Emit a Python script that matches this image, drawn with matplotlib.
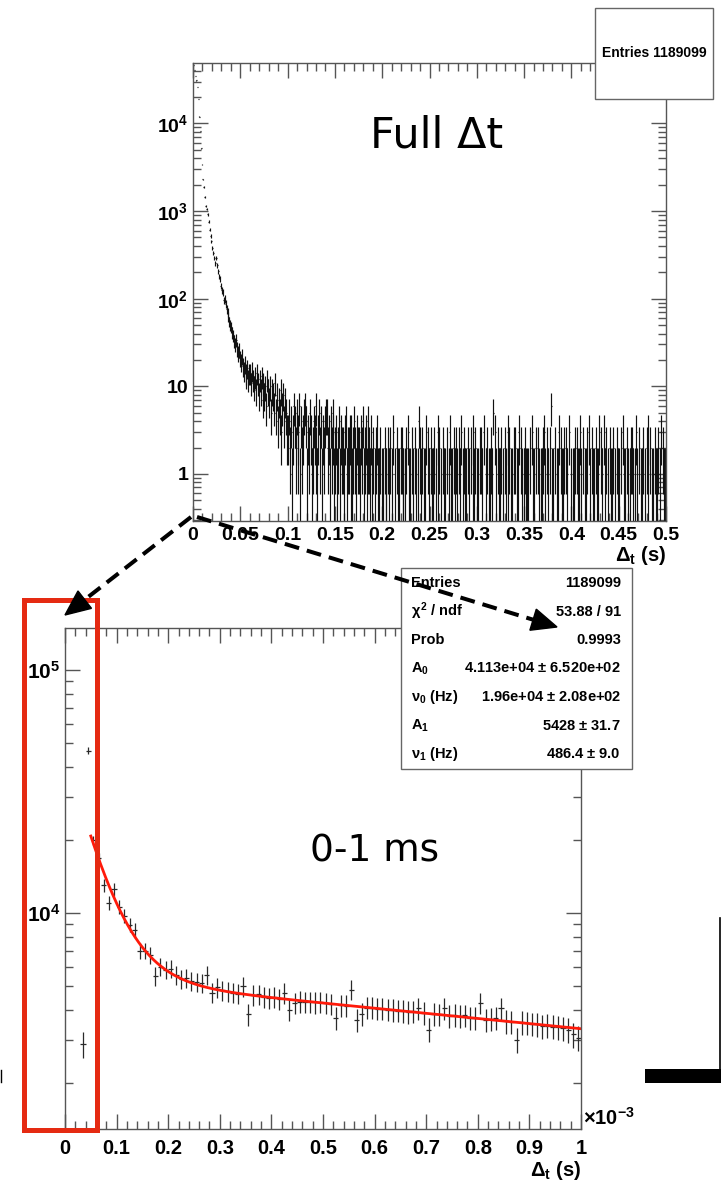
import numpy as np
import matplotlib
matplotlib.use('Agg')
import matplotlib.pyplot as plt
from matplotlib.ticker import FixedLocator, FuncFormatter, LogLocator, MultipleLocator, NullFormatter
from matplotlib.patches import Rectangle, Polygon

plt.rcParams['font.family'] = ['Liberation Sans', 'DejaVu Sans']
plt.rcParams['font.weight'] = 'bold'
plt.rcParams['axes.labelweight'] = 'bold'
plt.rcParams['mathtext.fontset'] = 'custom'
plt.rcParams['mathtext.rm'] = 'Liberation Sans:bold'
plt.rcParams['mathtext.it'] = 'Liberation Sans:bold'
plt.rcParams['mathtext.bf'] = 'Liberation Sans:bold'

# ---- full range histogram: 1 ms bins, 0 - 0.5 s ----
full_bin_width = 0.001
full_head = [46000, 41000, 35000, 31000, 26000, 19000, 12000, 8200, 5200, 3400,
             2300, 1900, 1450, 1150, 1050, 920, 760, 610, 520, 450,
             380, 330, 290, 255, 290, 240, 205, 180, 170, 140,
             125, 118, 96, 100, 88, 76, 70, 62, 55, 50,
             47, 41, 38, 33, 30, 34, 27, 24, 26, 21,
             19, 22, 17, 15, 18, 14, 13, 16, 12, 14,
             14, 11, 15, 12, 10, 13, 9, 14, 11, 8,
             12, 9, 13, 7, 11, 8, 10, 6, 12, 9,
             7, 10, 5, 9, 8, 6, 11, 5, 8, 4,
             7, 5, 9, 3, 6, 8, 4, 7, 5, 3]
# one digit per bin from 0.1 s on
full_tail = ("35241364252361423564132531243621352413245523142531"
             "23124132213412233112421322132412314221312012311201"
             "10211021201301021102211012031102102101421020113021"
             "02112010312010211020131102120102130121102102013120"
             "11022103012011021503102112010210312011022011302101"
             "21011020311020210112031021026110201130201120210301"
             "01120210131020112031021102011302103120102110201021"
             "10203110210120210131020112010231020110211201302110")

# ---- zoomed histogram: 0.01 ms bins, 0 - 1 ms ----
zoom_bin_width = 0.01  # ms
zoom_counts = [0, 0, 0, 2880, 46600, 19900, 16800, 13000, 11000, 12500,
               10600, 9700, 8950, 8500, 7000, 7000, 6700, 5500, 6000, 5850,
               5900, 5550, 5350, 5400, 5250, 5200, 5150, 5550, 4700, 4950,
               4800, 4750, 4700, 4650, 4990, 3820, 4600, 4620, 4500, 4480,
               4520, 4430, 4690, 4000, 4260, 4320, 4300, 4310, 4280, 4290,
               4250, 4230, 3700, 4160, 4150, 4830, 3640, 3850, 4080, 4070,
               4040, 4030, 4000, 3990, 3960, 3950, 3910, 3930, 4060, 3880,
               3310, 3850, 3830, 4050, 3780, 3800, 3760, 3790, 3710, 3700,
               4260, 3640, 3660, 3700, 4060, 3580, 3560, 3010, 3550, 3530,
               3500, 3480, 3420, 3440, 3400, 3380, 3350, 3300, 3160, 3060]
zoom_err_scale = 6.6

# fit: A0*exp(-nu0*t) + A1*exp(-nu1*t)
fit_A0, fit_nu0 = 4.113e4, 1.96e4
fit_A1, fit_nu1 = 5428.0, 486.4
fit_start, fit_end = 0.05e-3, 1.0e-3

stats_names = ['Entries', r'$\chi^{2}$ / ndf', 'Prob', r'A$_{0}$', r'$\nu_{0}$ (Hz)',
               r'A$_{1}$', r'$\nu_{1}$ (Hz)']
stats_values = ['1189099', '53.88 / 91', '0.9993', r'4.113e+04 $\pm$ 6.520e+02',
                r'1.96e+04 $\pm$ 2.08e+02', r'5428 $\pm$ 31.7', r'486.4 $\pm$ 9.0']

W, H = 721, 1181
frame = '#555555'
fig = plt.figure(figsize=(W / 100, H / 100), dpi=100)


def log_label(v, pos):
    e = int(round(np.log10(v)))
    if e == 0:
        return '1'
    if e == 1:
        return '10'
    return r'$10^{%d}$' % e


def style_axes(ax, ysize):
    for s in ax.spines.values():
        s.set_color(frame)
        s.set_linewidth(1.0)
    ax.tick_params(which='both', direction='in', top=True, right=True, color=frame, width=1.0)
    ax.tick_params(which='major', length=10.5)
    ax.tick_params(which='minor', length=5.5)
    ax.tick_params(axis='y', labelsize=ysize, pad=3.5)


# ---- top panel ----
ax1 = fig.add_axes([193 / W, 1 - 521 / H, 473 / W, 458 / H])
full_counts = np.array(full_head + [int(c) for c in full_tail], dtype=float)
xc = (np.arange(len(full_counts)) + 0.5) * full_bin_width
m = full_counts > 0
ax1.errorbar(xc[m], full_counts[m], yerr=np.sqrt(full_counts[m]), xerr=full_bin_width / 2,
             fmt='none', ecolor='#111111', elinewidth=0.85)
ax1.set_yscale('log')
ax1.set_xlim(0, 0.5)
ax1.set_ylim(0.29, 4.9e4)
ax1.xaxis.set_major_locator(MultipleLocator(0.05))
ax1.xaxis.set_minor_locator(MultipleLocator(0.01))
ax1.xaxis.set_major_formatter(FuncFormatter(lambda v, p: '%g' % round(v, 3)))
ax1.yaxis.set_major_locator(FixedLocator([1, 10, 100, 1000, 10000]))
ax1.yaxis.set_major_formatter(FuncFormatter(log_label))
ax1.yaxis.set_minor_locator(LogLocator(base=10, subs=np.arange(2, 10)))
ax1.yaxis.set_minor_formatter(NullFormatter())
style_axes(ax1, 14)
ax1.tick_params(axis='x', labelsize=14, pad=4.5)
ax1.set_xlabel(r'$\Delta_{t}$ (s)', loc='right', fontsize=14.5, labelpad=0)

# ---- bottom panel ----
ax2 = fig.add_axes([65 / W, 1 - 1129 / H, 516 / W, 501 / H])
zc = np.array(zoom_counts, dtype=float)
zx = (np.arange(len(zc)) + 0.5) * zoom_bin_width
zm = zc > 0
ax2.errorbar(zx[zm], zc[zm], yerr=zoom_err_scale * np.sqrt(zc[zm]), xerr=zoom_bin_width / 2,
             fmt='none', ecolor='#2a2a2a', elinewidth=0.9)
tfit = np.linspace(fit_start, fit_end, 400)
ffit = fit_A0 * np.exp(-fit_nu0 * tfit) + fit_A1 * np.exp(-fit_nu1 * tfit)
ax2.plot(tfit * 1e3, ffit, color='#ff1a0a', lw=2.0)
ax2.set_yscale('log')
ax2.set_xlim(0, 1.0)
ax2.set_ylim(1290, 1.49e5)
ax2.xaxis.set_major_locator(MultipleLocator(0.1))
ax2.xaxis.set_minor_locator(MultipleLocator(0.02))
ax2.xaxis.set_major_formatter(FuncFormatter(lambda v, p: '%g' % round(v, 3)))
ax2.yaxis.set_major_locator(FixedLocator([1e4, 1e5]))
ax2.yaxis.set_major_formatter(FuncFormatter(log_label))
ax2.yaxis.set_minor_locator(LogLocator(base=10, subs=np.arange(2, 10)))
ax2.yaxis.set_minor_formatter(NullFormatter())
style_axes(ax2, 15)
ax2.tick_params(axis='x', labelsize=14.5, pad=7)
ax2.set_xlabel(r'$\Delta_{t}$ (s)', loc='right', fontsize=14.5, labelpad=1)
ax2.text(1.003, 0.0, r'$\times 10^{-3}$', transform=ax2.transAxes, fontsize=14.5,
         ha='left', va='bottom')

# ---- overlay in pixel coordinates ----
ov = fig.add_axes([0, 0, 1, 1], zorder=10)
ov.set_xlim(0, W)
ov.set_ylim(H, 0)
ov.axis('off')
ov.patch.set_alpha(0)

# stats box top
ov.add_patch(Rectangle((595, 8), 118, 91, facecolor='white', edgecolor='#666666', lw=1.0, zorder=2))
ov.text(654, 53, 'Entries 1189099', fontsize=10, ha='center', va='center', zorder=3)

# stats box bottom
ov.add_patch(Rectangle((401, 568), 231, 201, facecolor='white', edgecolor='#666666', lw=1.0, zorder=2))
for k, (nm, val) in enumerate(zip(stats_names, stats_values)):
    yy = 583 + k * 28.5
    ov.text(411, yy, nm, fontsize=10.5, ha='left', va='center', zorder=3)
    ov.text(621, yy, val, fontsize=10.5, ha='right', va='center', zorder=3)

# panel captions
ov.text(437, 135, 'Full \u0394t', fontsize=31, family='DejaVu Sans', weight='normal',
        ha='center', va='center', zorder=3)
ov.text(375, 851, '0-1 ms', fontsize=27, family='DejaVu Sans', weight='normal',
        ha='center', va='center', zorder=3)

# red highlight box
ov.add_patch(Rectangle((24, 600), 73, 530, facecolor='none', edgecolor='#e52a12', lw=3.6, zorder=4))


def dashed_arrow(x0, y0, x1, y1, head_len=25, head_w=11):
    d = np.array([x1 - x0, y1 - y0], dtype=float)
    u = d / np.hypot(*d)
    p = np.array([-u[1], u[0]])
    base = np.array([x1, y1]) - head_len * u
    ov.plot([x0, base[0]], [y0, base[1]], color='black', lw=2.9, dashes=(3.7, 2.0),
            solid_capstyle='butt', zorder=5)
    tri = [[x1, y1], base + head_w * p, base - head_w * p]
    ov.add_patch(Polygon(tri, closed=True, facecolor='black', edgecolor='black', zorder=5))


dashed_arrow(191, 517, 65, 615)
dashed_arrow(197, 517, 557, 627)

# stray marks at the edges
ov.plot([719.5, 719.5], [918, 1070], color='black', lw=1.2, zorder=5)
ov.add_patch(Rectangle((645, 1069), 76, 14, facecolor='black', edgecolor='none', zorder=5))
ov.plot([0.5, 0.5], [1070, 1082], color='black', lw=1.0, zorder=5)

fig.savefig('out.png', dpi=100)
